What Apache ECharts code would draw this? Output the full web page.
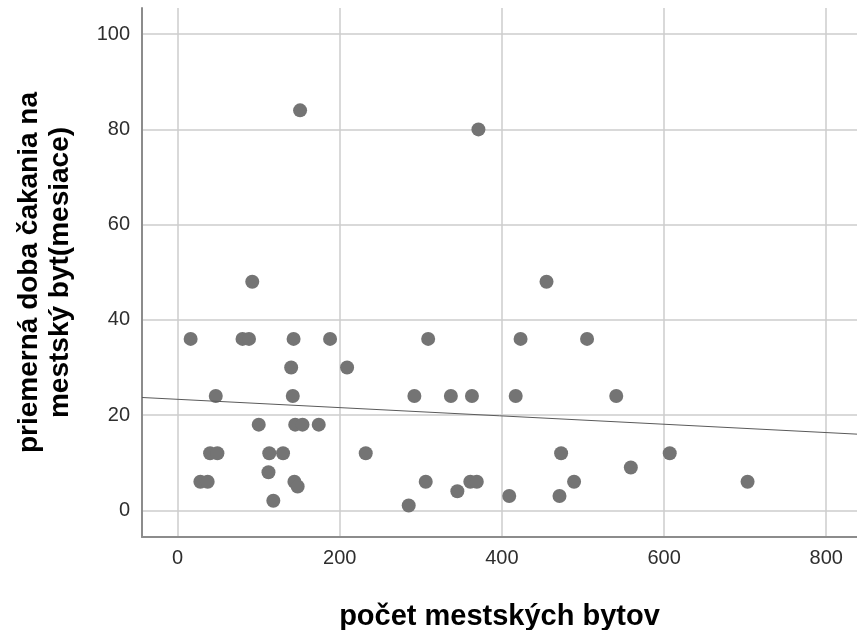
<!DOCTYPE html>
<html>
<head>
<meta charset="utf-8">
<script src="https://cdn.jsdelivr.net/npm/echarts@6/dist/echarts.min.js"></script>
<style>html,body{margin:0;padding:0;background:#fff;}#c{width:857px;height:630px;}</style>
</head>
<body>
<div id="c"></div>
<script>
// number of city flats (x) and average waiting time in months (y)
const pocetBytov = [92,16,80,88,143,188,309,140,209,47,142,292,337,363,100,145,154,174,40,49,113,130,232,28,37,112,144,148,118,306,345,361,369,285,151,371,455,423,505,417,541,473,559,607,489,703,409,471];
const dobaCakania = [48,36,36,36,36,36,36,30,30,24,24,24,24,24,18,18,18,18,12,12,12,12,12,6,6,8,6,5,2,6,4,6,6,1,84,80,48,36,36,24,24,12,9,12,6,6,3,3];
// fit line end points
const fitX = [-44, 838];
const fitY = [23.7, 16.0];
const xTicks = [0, 200, 400, 600, 800];
const yTicks = [0, 20, 40, 60, 80, 100];
const xTitle = 'počet mestských bytov';
const yTitle = 'priemerná doba čakania na\nmestský byt(mesiace)';

const points = pocetBytov.map((x, i) => [x, dobaCakania[i]]);
const fit = fitX.map((x, i) => [x, fitY[i]]);

const chart = echarts.init(document.getElementById('c'));
const labelFont = {fontFamily: 'Liberation Sans', fontSize: 20, color: '#2e2e2e'};
chart.setOption({
  animation: false,
  backgroundColor: '#fff',
  grid: {left: 142, right: 0, top: 8, bottom: 93, containLabel: false, outerBoundsMode: 'none'},
  xAxis: {
    type: 'value', min: -44, max: 838,
    axisLine: {show: true, onZero: false, lineStyle: {color: '#8c8c8c', width: 2}},
    axisTick: {show: false, customValues: xTicks},
    axisLabel: Object.assign({customValues: xTicks, margin: 11}, labelFont),
    splitLine: {show: true, lineStyle: {color: '#cccccc', width: 1.5}},
    name: xTitle, nameLocation: 'middle', nameGap: 65,
    nameTextStyle: {fontFamily: 'Liberation Sans', fontSize: 29, fontWeight: 'bold', color: '#000'}
  },
  yAxis: {
    type: 'value', min: -5.6, max: 105.5,
    axisLine: {show: true, onZero: false, lineStyle: {color: '#8c8c8c', width: 2}},
    axisTick: {show: false, customValues: yTicks},
    axisLabel: Object.assign({customValues: yTicks, margin: 12}, labelFont),
    splitLine: {show: true, lineStyle: {color: '#cccccc', width: 1.5}},
    name: yTitle, nameLocation: 'middle', nameGap: 66, nameRotate: 90,
    nameTextStyle: {fontFamily: 'Liberation Sans', fontSize: 28, fontWeight: 'bold', color: '#000', lineHeight: 31, align: 'center'}
  },
  series: [
    {type: 'scatter', data: points, symbol: 'circle', symbolSize: 14,
     itemStyle: {color: '#747474', opacity: 1}, z: 2},
    {type: 'line', data: fit, symbol: 'none', silent: true,
     lineStyle: {color: '#5a5a5a', width: 1}, z: 3}
  ]
});
</script>
</body>
</html>
